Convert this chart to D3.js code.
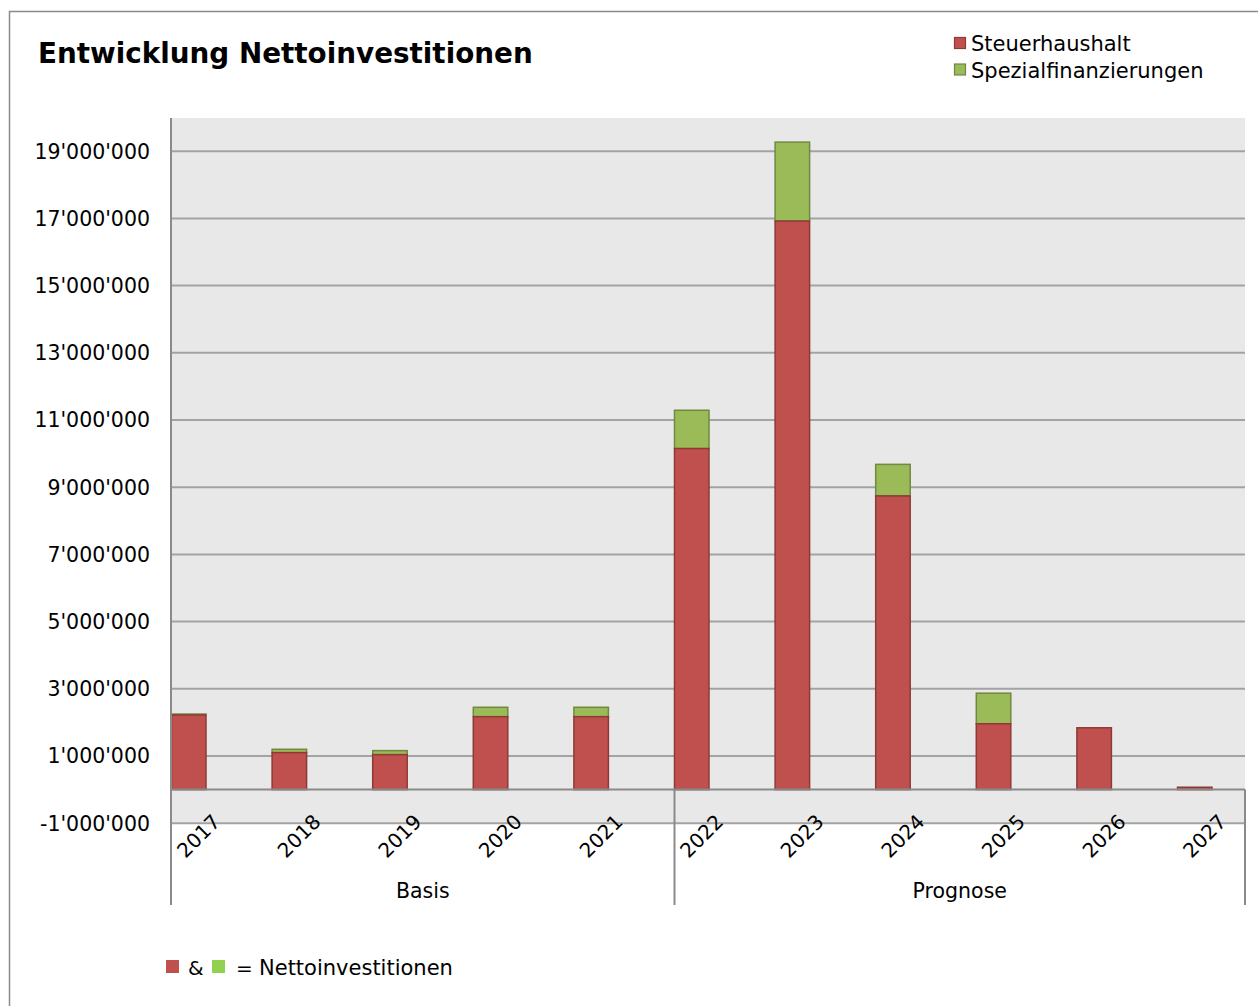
<!DOCTYPE html>
<html><head><meta charset="utf-8">
<script src="https://cdn.jsdelivr.net/npm/d3@7"></script>
<style>
body{margin:0;background:#fff;}
svg{display:block;font-family:"DejaVu Sans",Verdana,sans-serif;}
</style></head>
<body><svg id="c" width="1258" height="1006"></svg>
<script>
const categories = ["2017","2018","2019","2020","2021","2022","2023","2024","2025","2026","2027"];
const steuerhaushalt = [2220000,1100000,1040000,2170000,2170000,10150000,16920000,8740000,1960000,1840000,70000];
const spezialfinanzierungen = [30000,100000,120000,280000,280000,1140000,2350000,940000,910000,0,0];
const yTicks = [-1000000,1000000,3000000,5000000,7000000,9000000,11000000,13000000,15000000,17000000,19000000];
const groups = [{name:"Basis", from:"2017", to:"2021"},{name:"Prognose", from:"2022", to:"2027"}];
const seriesNames = ["Steuerhaushalt","Spezialfinanzierungen"];

const svg = d3.select("#c");
const plotL = 171, plotR = 1245, plotT = 118;
const red = "#c0504d", redS = "#8d3a37", green = "#9bbb59", greenS = "#71893f";

// outer border
svg.append("rect").attr("x",9.5).attr("y",11.5).attr("width",1300).attr("height",1100)
  .attr("fill","none").attr("stroke","#8a8a8a").attr("stroke-width",1.5);

const y = d3.scaleLinear().domain([-1000000,20000000]).range([823.2,117.6]);
const x = d3.scaleBand().domain(categories).range([171.5, 171.5+11*100.6]).padding(0);
const bw = 34.5;

// plot background
svg.append("rect").attr("x",plotL).attr("y",plotT).attr("width",plotR-plotL).attr("height",y(-1000000)-plotT).attr("fill","#e8e8e8");

// gridlines
svg.append("g").selectAll("line").data(yTicks).join("line")
  .attr("x1",plotL).attr("x2",plotR).attr("y1",d=>y(d)).attr("y2",d=>y(d))
  .attr("stroke","#a3a3a3").attr("stroke-width",2);

// y labels
const fmt = v => (v<0?"-":"") + d3.format(",")(Math.abs(v)).replace(/,/g,"'");
svg.append("g").selectAll("text").data(yTicks).join("text")
  .attr("x",150).attr("y",d=>y(d)).attr("dy","0.36em").attr("text-anchor","end")
  .attr("font-size",20.5).attr("fill","#000").text(fmt);

// stacked bars
const data = categories.map((c,i)=>({c, a:steuerhaushalt[i], b:spezialfinanzierungen[i]}));
const bars = svg.append("g");
bars.selectAll("rect.b").data(data.filter(d=>d.b>0)).join("rect").attr("class","b")
  .attr("x",d=>x(d.c)).attr("width",bw)
  .attr("y",d=>y(d.a+d.b)).attr("height",d=>y(d.a)-y(d.a+d.b))
  .attr("fill",green).attr("stroke",greenS).attr("stroke-width",1.5);
bars.selectAll("rect.a").data(data).join("rect").attr("class","a")
  .attr("x",d=>x(d.c)).attr("width",bw)
  .attr("y",d=>y(d.a)).attr("height",d=>y(0)-y(d.a))
  .attr("fill",red).attr("stroke",redS).attr("stroke-width",1.5);

// axes lines
svg.append("line").attr("x1",plotL).attr("x2",plotL).attr("y1",plotT).attr("y2",905)
  .attr("stroke","#8a8a8a").attr("stroke-width",2);
svg.append("line").attr("x1",plotL).attr("x2",plotR).attr("y1",y(0)).attr("y2",y(0))
  .attr("stroke","#8a8a8a").attr("stroke-width",2);
// group dividers
const divs = [x(groups[1].from), plotR];
svg.append("g").selectAll("line").data(divs).join("line")
  .attr("x1",d=>d).attr("x2",d=>d).attr("y1",y(0)).attr("y2",905)
  .attr("stroke","#8a8a8a").attr("stroke-width",2);

// x labels
svg.append("g").selectAll("text").data(categories).join("text")
  .attr("transform",d=>`translate(${x(d)+50},${823}) rotate(-45)`)
  .attr("text-anchor","end").attr("font-size",20).attr("fill","#000").text(d=>d);

// group labels
svg.append("g").selectAll("text").data(groups).join("text")
  .attr("x",(d,i)=> i===0 ? (plotL + x(groups[1].from))/2 : (x(groups[1].from)+plotR)/2)
  .attr("y",898).attr("text-anchor","middle").attr("font-size",20.5).attr("fill","#000").text(d=>d.name);

// title
svg.append("text").attr("x",38).attr("y",63).attr("font-size",27.8).attr("font-weight","bold")
  .attr("fill","#000").text("Entwicklung Nettoinvestitionen");

// legend
const lg = svg.append("g");
seriesNames.forEach((n,i)=>{
  lg.append("rect").attr("x",954.5).attr("y",37.5+i*26.5).attr("width",11).attr("height",11)
    .attr("fill",i?green:red).attr("stroke",i?greenS:redS).attr("stroke-width",1.2);
  lg.append("text").attr("x",971).attr("y",51+i*26.5).attr("font-size",21).attr("fill","#000").text(n);
});

// bottom note
svg.append("rect").attr("x",166).attr("y",960).attr("width",13).attr("height",13).attr("fill",red);
svg.append("text").attr("x",188).attr("y",975).attr("font-size",20).attr("fill","#000").text("&");
svg.append("rect").attr("x",212).attr("y",960).attr("width",13).attr("height",13).attr("fill","#92d050");
svg.append("text").attr("x",236).attr("y",975).attr("font-size",20).attr("fill","#000").text("=");
svg.append("text").attr("x",259).attr("y",975).attr("font-size",21).attr("fill","#000").text("Nettoinvestitionen");
</script></body></html>
